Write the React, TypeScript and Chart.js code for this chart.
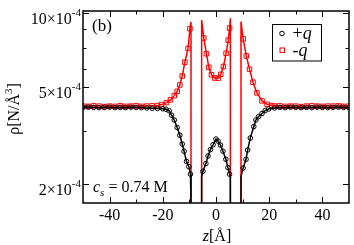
import React, { useEffect, useRef } from 'react';
import { Chart, registerables } from 'chart.js';

Chart.register(...registerables);

// ρ values in units of 10^-4 N/Å^3 ; 0 = inside wall (density vanishes), null = gap (wall)
const Z_PLUS = [
  -50, -48, -46, -44, -42, -40, -38, -36, -34, -32, -30, -28, -26, -24, -22,
  -20, -18.8, -17.6, -16.7, -15.7, -14.6, -13.6, -12.7, -12.0, -11.1, -10.2, -9.6, -9.4, -9.4,
  -7.4,
  -5.4, -5.4, -4.9, -3.8, -3.0, -2.1, -1.1, 0, 0.8, 1.7, 2.6, 3.7, 4.5, 5.1, 5.4, 5.4,
  7.4,
  9.4, 9.4, 10.2, 11.3, 11.9, 12.9, 14.2, 15.0, 16, 17.3, 18.5, 19.8,
  22, 24, 26, 28, 30, 32, 34, 36, 38, 40, 42, 44, 46, 48, 50,
];
const RHO_PLUS = [
  4.12, 4.13, 4.12, 4.11, 4.12, 4.13, 4.11, 4.12, 4.11, 4.13, 4.12, 4.11, 4.1, 4.09, 4.08,
  4.07, 4.05, 3.99, 3.83, 3.66, 3.41, 3.17, 2.92, 2.73, 2.48, 2.36, 2.2, 2.15, 0,
  null,
  0, 2.15, 2.26, 2.43, 2.61, 2.77, 2.9, 3.06, 3.0, 2.89, 2.73, 2.53, 2.34, 2.2, 2.15, 0,
  null,
  0, 2.15, 2.33, 2.53, 2.76, 3.09, 3.44, 3.66, 3.78, 3.89, 4.0, 4.06,
  4.1, 4.12, 4.11, 4.13, 4.12, 4.11, 4.12, 4.11, 4.13, 4.12, 4.11, 4.12, 4.13, 4.12, 4.11,
];

const Z_MINUS = [
  -50, -48, -46, -44, -42, -40, -38, -36, -34, -32, -30, -28, -26, -24, -22,
  -20.5, -18.6, -17.1, -15.7, -14.6, -13.6, -12.7, -11.7, -10.5, -9.8, -9.4, -9.4,
  -7.4,
  -5.4, -5.4, -4.6, -3.6, -2.7, -1.7, -0.5, 0.8, 1.8, 2.8, 3.8, 4.6, 5.1, 5.4, 5.4,
  7.4,
  9.4, 9.4, 10.2, 11.4, 12.6, 13.9, 15.4, 17.3, 19.2, 21,
  22, 24, 26, 28, 30, 32, 34, 36, 38, 40, 42, 44, 46, 48, 50,
];
const RHO_MINUS = [
  4.17, 4.16, 4.18, 4.17, 4.15, 4.17, 4.16, 4.18, 4.16, 4.17, 4.18, 4.16, 4.17, 4.18, 4.19,
  4.23, 4.31, 4.42, 4.6, 4.79, 5.09, 5.53, 6.3, 7.17, 8.63, 9.2, 0,
  null,
  0, 9.37, 7.91, 6.82, 6.0, 5.6, 5.43, 5.42, 5.62, 6.05, 6.85, 7.75, 8.68, 9.52, 0,
  null,
  0, 9.23, 7.84, 6.68, 5.9, 5.22, 4.72, 4.38, 4.24, 4.19,
  4.17, 4.18, 4.16, 4.17, 4.17, 4.15, 4.17, 4.18, 4.17, 4.16, 4.17, 4.17, 4.18, 4.16, 4.17,
];

const X_MIN = -50;
const X_MAX = 50;
const X_MAJOR = [-40, -20, 0, 20, 40];
const X_MINOR = [-30, -10, 10, 30];
const Y_MIN = 1.678;
const Y_MAX = 10.19;
const Y_MAJOR = [10, 5, 2];
const Y_LABELS = ['10×10', '5×10', '2×10'];
const Y_EXP = '-4';
const Y_MINOR = [8.6, 7.2, 5.9, 3.3];

const SERIF = "'Liberation Serif', 'Times New Roman', serif";
const f = (size: number, italic = false) => `${italic ? 'italic ' : ''}${size}px ${SERIF}`;

type Part = [string, string, number];

function richWidth(ctx: CanvasRenderingContext2D, parts: Part[]) {
  let w = 0;
  for (const [t, font] of parts) {
    ctx.font = font;
    w += ctx.measureText(t).width;
  }
  return w;
}
function drawRich(ctx: CanvasRenderingContext2D, parts: Part[], x: number, y: number) {
  let cx = x;
  for (const [t, font, dy] of parts) {
    ctx.font = font;
    ctx.fillText(t, cx, y + dy);
    cx += ctx.measureText(t).width;
  }
}

const decorPlugin = {
  id: 'decor',
  afterDraw(chart: any) {
    const { ctx, chartArea: a, scales } = chart;
    const xs = scales.x;
    const ys = scales.y;
    ctx.save();
    ctx.strokeStyle = '#000';
    ctx.fillStyle = '#000';
    ctx.textBaseline = 'alphabetic';
    ctx.textAlign = 'left';

    const seg = (x1: number, y1: number, x2: number, y2: number) => {
      ctx.beginPath();
      ctx.moveTo(x1, y1);
      ctx.lineTo(x2, y2);
      ctx.stroke();
    };

    // ticks (inside, mirrored)
    ctx.lineWidth = 1;
    const xTick = (v: number, len: number) => {
      const p = Math.round(xs.getPixelForValue(v)) + 0.5;
      seg(p, a.bottom, p, a.bottom - len);
      seg(p, a.top, p, a.top + len);
    };
    const yTick = (v: number, len: number) => {
      const p = Math.round(ys.getPixelForValue(v)) + 0.5;
      seg(a.left, p, a.left + len, p);
      seg(a.right, p, a.right - len, p);
    };
    X_MAJOR.forEach((v) => xTick(v, 6));
    X_MINOR.forEach((v) => xTick(v, 3.5));
    Y_MAJOR.forEach((v) => yTick(v, 6));
    Y_MINOR.forEach((v) => yTick(v, 3.5));

    // frame
    ctx.lineWidth = 1.5;
    ctx.strokeRect(a.left, a.top, a.right - a.left, a.bottom - a.top);

    // y tick labels with superscript exponent
    Y_MAJOR.forEach((v, i) => {
      const py = ys.getPixelForValue(v);
      ctx.font = f(11);
      const sw = ctx.measureText(Y_EXP).width;
      ctx.font = f(16);
      const mw = ctx.measureText(Y_LABELS[i]).width;
      const right = a.left - 2;
      ctx.fillText(Y_LABELS[i], right - sw - mw, py + 11);
      ctx.font = f(11);
      ctx.fillText(Y_EXP, right - sw, py + 3);
    });

    // y title (rotated)
    const yParts: Part[] = [['ρ[N/Å', f(16), 0], ['3', f(11), -7], [']', f(16), 0]];
    const yw = richWidth(ctx, yParts);
    ctx.save();
    ctx.translate(19, (a.top + a.bottom) / 2 + 2);
    ctx.rotate(-Math.PI / 2);
    drawRich(ctx, yParts, -yw / 2, 0);
    ctx.restore();

    // x title
    const xParts: Part[] = [['z', f(16, true), 0], ['[Å]', f(16), 0]];
    const xw = richWidth(ctx, xParts);
    drawRich(ctx, xParts, (a.left + a.right) / 2 - xw / 2 + 1, 241);

    // panel label and concentration
    ctx.font = f(17);
    ctx.fillText('(b)', a.left + 9, a.top + 20);
    drawRich(
      ctx,
      [
        ['c', f(16, true), 0],
        ['s', f(11, true), 4],
        [' = 0.74 M', f(16), 0],
      ],
      a.left + 10,
      191.5
    );

    // legend
    const lx = 272.5;
    const ly = 24.5;
    ctx.lineWidth = 1;
    ctx.strokeRect(lx, ly, 49, 36.5);
    ctx.beginPath();
    ctx.arc(lx + 9.5, ly + 9, 2.3, 0, Math.PI * 2);
    ctx.strokeStyle = '#000';
    ctx.stroke();
    ctx.strokeStyle = '#ff0000';
    ctx.strokeRect(lx + 7.5, ly + 23.5, 4.5, 4.5);
    ctx.fillStyle = '#000';
    drawRich(ctx, [['+', f(18), 0], ['q', f(18, true), 0]], lx + 20, ly + 14);
    drawRich(ctx, [['-', f(18), 0], ['q', f(18, true), 0]], lx + 20, ly + 31);

    ctx.restore();
  },
};

const toPoints = (zs: number[], rs: (number | null)[]) =>
  zs.map((z, i) => ({ x: z, y: rs[i] === null ? null : rs[i] === 0 ? Y_MIN : rs[i] }));

const markerRadius = (rs: (number | null)[], r: number) => (c: any) => {
  const i = c.dataIndex;
  const v = rs[i];
  if (v === null || v === 0) return 0;
  if (rs[i - 1] === 0 || rs[i + 1] === 0) return 0;
  return r;
};

export default function App() {
  const ref = useRef<HTMLCanvasElement | null>(null);
  useEffect(() => {
    if (!ref.current) return;
    const chart = new Chart(ref.current, {
      type: 'line',
      data: {
        datasets: [
          {
            label: '+q',
            data: toPoints(Z_PLUS, RHO_PLUS) as any,
            borderColor: '#000000',
            borderWidth: 1.5,
            pointStyle: 'circle',
            pointRadius: markerRadius(RHO_PLUS, 2.3),
            pointBorderColor: '#000000',
            pointBackgroundColor: 'rgba(0,0,0,0)',
            pointBorderWidth: 1,
            tension: 0,
            spanGaps: false,
          },
          {
            label: '-q',
            data: toPoints(Z_MINUS, RHO_MINUS) as any,
            borderColor: '#ff0000',
            borderWidth: 1.5,
            pointStyle: 'rect',
            pointRadius: markerRadius(RHO_MINUS, 3.2),
            pointBorderColor: '#ff0000',
            pointBackgroundColor: 'rgba(0,0,0,0)',
            pointBorderWidth: 1,
            tension: 0,
            spanGaps: false,
          },
        ],
      },
      options: {
        responsive: false,
        animation: false,
        devicePixelRatio: 1,
        layout: { padding: { left: 83, right: 4.5, top: 11, bottom: 16.8 } },
        plugins: { legend: { display: false }, tooltip: { enabled: false } },
        scales: {
          x: {
            type: 'linear',
            min: X_MIN,
            max: X_MAX,
            afterBuildTicks: (s: any) => {
              s.ticks = X_MAJOR.map((v) => ({ value: v }));
            },
            grid: { display: false, drawTicks: false },
            border: { display: false },
            ticks: {
              color: '#000',
              padding: 3,
              maxRotation: 0,
              font: { family: SERIF, size: 16 },
              callback: (v: any) => String(v),
            },
          },
          y: {
            type: 'logarithmic',
            display: false,
            min: Y_MIN,
            max: Y_MAX,
          },
        },
      },
      plugins: [decorPlugin],
    });
    return () => chart.destroy();
  }, []);
  return (
    <div style={{ position: 'fixed', left: 0, top: 0, width: 354, height: 245, background: '#fff' }}>
      <canvas ref={ref} width={354} height={245} style={{ display: 'block' }} />
    </div>
  );
}
